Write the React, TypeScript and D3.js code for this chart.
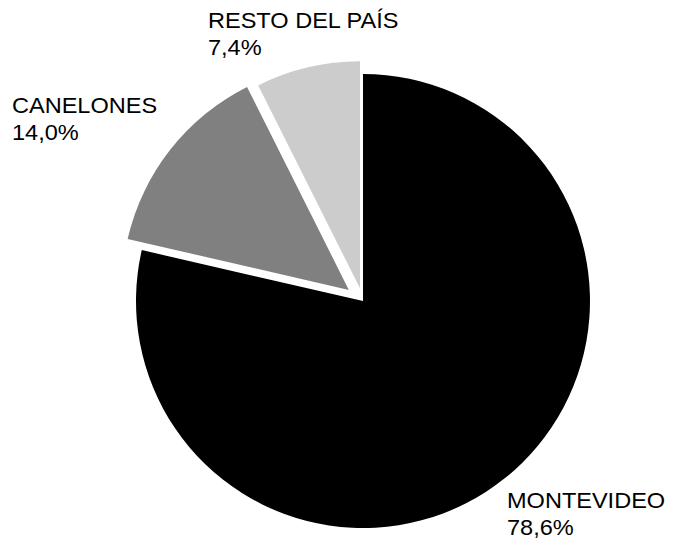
import React from "react";
import * as d3 from "d3";

const categories = ["MONTEVIDEO", "CANELONES", "RESTO DEL PAÍS"];
const values = [78.6, 14.0, 7.4];
const valueLabels = ["78,6%", "14,0%", "7,4%"];

const colors = ["#000000", "#808080", "#cccccc"];
const explode = [0, 18, 13];
const labelPos: [number, number][] = [
  [507, 508],
  [12, 113],
  [208, 28],
];

export default function App() {
  const W = 675;
  const H = 546;
  const cx = 363;
  const cy = 301;
  const r = 227;
  const sx = 1.07;
  const pie = d3.pie<number>().sort(null).startAngle(0).endAngle(2 * Math.PI);
  const arcs = pie(values);
  const arc = d3.arc<d3.PieArcDatum<number>>().innerRadius(0).outerRadius(r);
  return (
    <svg
      width={W}
      height={H}
      style={{ position: "absolute", left: 0, top: 0, background: "#fff" }}
      fontFamily="'Liberation Sans', Arial, sans-serif"
    >
      <g transform={`translate(${cx},${cy})`}>
        {arcs.map((a, i) => {
          const mid = (a.startAngle + a.endAngle) / 2;
          const dx = Math.sin(mid) * explode[i];
          const dy = -Math.cos(mid) * explode[i];
          return (
            <path
              key={i}
              d={arc(a) || ""}
              fill={colors[i]}
              transform={`translate(${dx},${dy})`}
            />
          );
        })}
      </g>
      {categories.map((c, i) => (
        <g key={c} transform={`translate(${labelPos[i][0]},${labelPos[i][1]}) scale(${sx},1)`}>
          <text x={0} y={0} fontSize={22} fill="#000">
            <tspan x={0}>{c}</tspan>
            <tspan x={0} dy={27}>{valueLabels[i]}</tspan>
          </text>
        </g>
      ))}
    </svg>
  );
}
